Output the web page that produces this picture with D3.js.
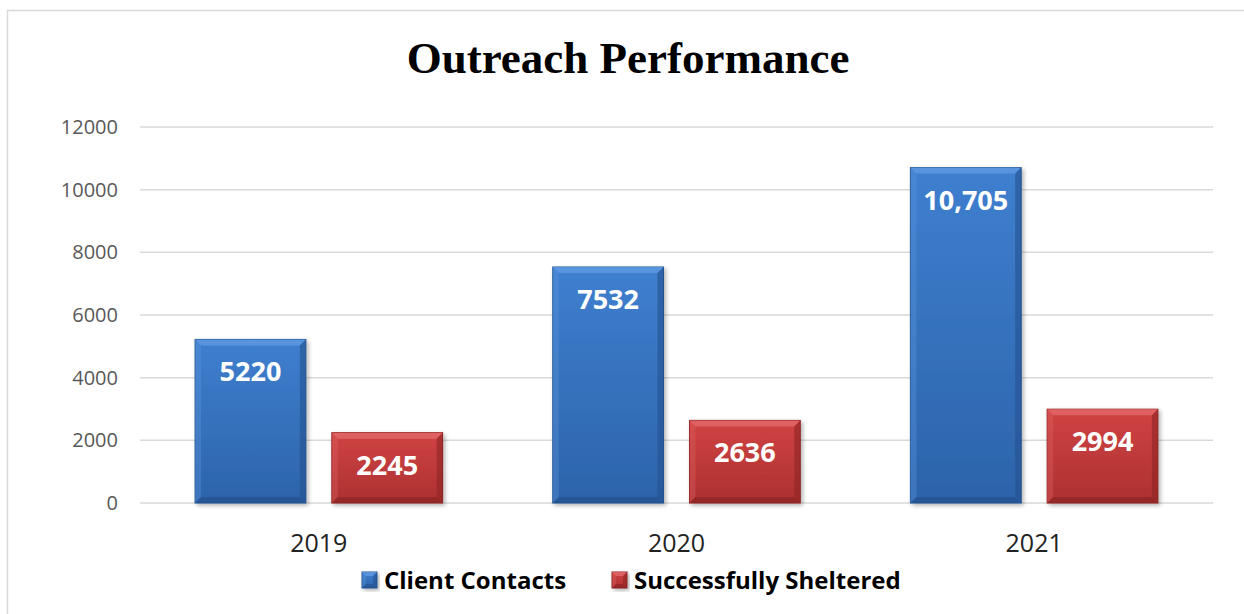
<!DOCTYPE html>
<html>
<head>
<meta charset="utf-8">
<script src="https://cdn.jsdelivr.net/npm/d3@7"></script>
<style>
  body { margin: 0; background: #fff; }
  svg { display: block; }
</style>
</head>
<body>
<svg width="1244" height="614"></svg>
<script>
// chart data
var years = ["2019", "2020", "2021"];
var seriesNames = ["Client Contacts", "Successfully Sheltered"];
var clientContacts = [5220, 7532, 10705];
var sheltered = [2245, 2636, 2994];
var contactLabels = ["5220", "7532", "10,705"];
var shelteredLabels = ["2245", "2636", "2994"];
var yTicks = [0, 2000, 4000, 6000, 8000, 10000, 12000];

var svg = d3.select("svg"),
    width = +svg.attr("width"),
    height = +svg.attr("height");

var margin = {left: 140, right: 31, top: 127, bottom: 111};

var colors = [
    {light: "#5b97e0", mid: "#3f7fcf", dark: "#2c63aa", edge: "#24528f"},
    {light: "#e06565", mid: "#d04343", dark: "#ad3030", edge: "#8d2424"}
];

var defs = svg.append("defs");
colors.forEach(function (c, i) {
    var g = defs.append("linearGradient")
        .attr("id", "grad" + i)
        .attr("x1", 0).attr("y1", 0).attr("x2", 0).attr("y2", 1);
    g.append("stop").attr("offset", "0%").attr("stop-color", c.mid);
    g.append("stop").attr("offset", "100%").attr("stop-color", c.dark);
});
var shadow = defs.append("filter").attr("id", "shadow")
    .attr("x", "-10%").attr("y", "-10%").attr("width", "130%").attr("height", "130%");
shadow.append("feDropShadow")
    .attr("dx", 2).attr("dy", 2).attr("stdDeviation", 2)
    .attr("flood-color", "#000").attr("flood-opacity", 0.3);

// outer frame
svg.append("rect")
    .attr("x", 7.5).attr("y", 10.5)
    .attr("width", width + 20).attr("height", height + 20)
    .attr("fill", "none")
    .attr("stroke", "#d9d9d9")
    .attr("stroke-width", 1.5);

var x0 = d3.scaleBand()
    .domain(years)
    .range([margin.left, width - margin.right])
    .paddingInner(0.308)
    .paddingOuter(0.154);

var x1 = d3.scaleBand()
    .domain([0, 1])
    .range([0, x0.bandwidth()])
    .paddingInner(0.19);

var y = d3.scaleLinear()
    .domain([0, 12000])
    .range([height - margin.bottom, margin.top]);

// gridlines
svg.append("g")
    .selectAll("line")
    .data(yTicks)
    .enter().append("line")
    .attr("x1", margin.left)
    .attr("x2", width - margin.right)
    .attr("y1", function (d) { return y(d); })
    .attr("y2", function (d) { return y(d); })
    .attr("stroke", "#d9d9d9")
    .attr("stroke-width", 1.5);

// y axis labels
svg.append("g")
    .selectAll("text")
    .data(yTicks)
    .enter().append("text")
    .attr("x", 118)
    .attr("y", function (d) { return y(d); })
    .attr("dy", "0.35em")
    .attr("text-anchor", "end")
    .attr("font-family", "'Open Sans', 'Liberation Sans', sans-serif")
    .attr("font-size", 20)
    .attr("fill", "#595959")
    .text(function (d) { return d; });

// x axis labels
svg.append("g")
    .selectAll("text")
    .data(years)
    .enter().append("text")
    .attr("x", function (d) { return x0(d) + x0.bandwidth() / 2; })
    .attr("y", 552)
    .attr("text-anchor", "middle")
    .attr("font-family", "'Open Sans', 'Liberation Sans', sans-serif")
    .attr("font-size", 25)
    .attr("fill", "#222")
    .text(function (d) { return d; });

var bars = [];
years.forEach(function (yr, i) {
    bars.push({year: yr, s: 0, value: clientContacts[i], label: contactLabels[i]});
    bars.push({year: yr, s: 1, value: sheltered[i], label: shelteredLabels[i]});
});

function bevelBar(g, x, yTop, w, h, c, b) {
    g.append("rect")
        .attr("x", x).attr("y", yTop).attr("width", w).attr("height", h)
        .attr("fill", "url(#grad" + c + ")")
        .attr("stroke", colors[c].edge).attr("stroke-width", 1)
        .attr("filter", "url(#shadow)");
    // top bevel
    g.append("polygon")
        .attr("points", [[x, yTop], [x + w, yTop], [x + w - b, yTop + b], [x + b, yTop + b]].join(" "))
        .attr("fill", colors[c].light).attr("opacity", 0.9);
    // left bevel
    g.append("polygon")
        .attr("points", [[x, yTop], [x + b, yTop + b], [x + b, yTop + h - b], [x, yTop + h]].join(" "))
        .attr("fill", colors[c].light).attr("opacity", 0.35);
    // right bevel
    g.append("polygon")
        .attr("points", [[x + w, yTop], [x + w, yTop + h], [x + w - b, yTop + h - b], [x + w - b, yTop + b]].join(" "))
        .attr("fill", colors[c].edge).attr("opacity", 0.6);
    // bottom bevel
    g.append("polygon")
        .attr("points", [[x, yTop + h], [x + w, yTop + h], [x + w - b, yTop + h - b], [x + b, yTop + h - b]].join(" "))
        .attr("fill", colors[c].edge).attr("opacity", 0.7);
}

var barG = svg.append("g");
bars.forEach(function (d) {
    var bx = x0(d.year) + x1(d.s);
    var by = y(d.value);
    var bh = y(0) - by;
    var g = barG.append("g");
    bevelBar(g, bx, by, x1.bandwidth(), bh, d.s, 6);
    g.append("text")
        .attr("x", bx + x1.bandwidth() / 2)
        .attr("y", by + 42)
        .attr("text-anchor", "middle")
        .attr("font-family", "'Open Sans', 'Liberation Sans', sans-serif")
        .attr("font-weight", "bold")
        .attr("font-size", 27)
        .attr("fill", "#fff")
        .text(d.label);
});

// title
svg.append("text")
    .attr("x", 628)
    .attr("y", 73)
    .attr("text-anchor", "middle")
    .attr("font-family", "'Liberation Serif', 'DejaVu Serif', serif")
    .attr("font-weight", "bold")
    .attr("font-size", 45)
    .attr("fill", "#000")
    .text("Outreach Performance");

// legend
var legendX = [362, 612];
var legend = svg.append("g")
    .selectAll("g")
    .data(seriesNames)
    .enter().append("g")
    .attr("transform", function (d, i) { return "translate(" + legendX[i] + ",572)"; });

legend.each(function (d, i) {
    bevelBar(d3.select(this), 0, 0, 15, 16, i, 4);
});

legend.append("text")
    .attr("x", 22)
    .attr("y", 17)
    .attr("font-family", "'Open Sans', 'Liberation Sans', sans-serif")
    .attr("font-weight", "bold")
    .attr("font-size", 24)
    .attr("fill", "#000")
    .text(function (d) { return d; });
</script>
</body>
</html>
